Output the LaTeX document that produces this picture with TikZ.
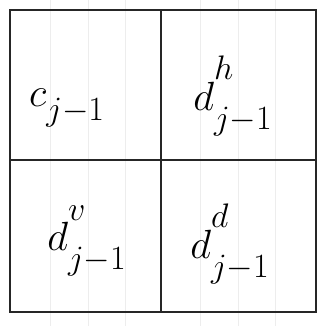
\documentclass[tikz,border=0pt]{standalone}
\usepackage{xcolor}
\usepackage{tikz}
\usetikzlibrary{positioning}
\tikzstyle{paper} = [draw=black!7, line width=0.6pt]
\tikzstyle{cell} = [draw=black!85, line width=1.6pt]
\tikzstyle{coef} = [font=\Huge, scale=1.4, inner sep=0pt]
\newcommand{\upidx}[1]{\raisebox{0.9ex}{$\scriptstyle #1$}}
\newcommand{\dnidx}[1]{\raisebox{-0.5ex}{$\scriptstyle #1$}}

\begin{document}
\begin{tikzpicture}[x=0.03cm, y=-0.03cm]
    \useasboundingbox (0,0) rectangle (326,326);
    \fill [white] (0,0) rectangle (326,326);
    \foreach \x in {50,88,125,200,238,275} \draw [paper] (\x,0) -- (\x,326);

    \draw [cell] (10,10) rectangle (316,312);
    \draw [cell] (161,10) -- (161,312);
    \draw [cell] (10,160) -- (316,160);

    \node (approx) [coef] at (67,108) {$c_{\dnidx{j-1}}$};
    \node (horiz) [coef] at (233,96) {$d^{\upidx{h}}_{\dnidx{j-1}}$};
    \node (vert) [coef] at (87,241) {$d^{\upidx{v}}_{\dnidx{j-1}}$};
    \node (diag) [coef] at (230,244) {$d^{\upidx{d}}_{\dnidx{j-1}}$};
\end{tikzpicture}
\end{document}
